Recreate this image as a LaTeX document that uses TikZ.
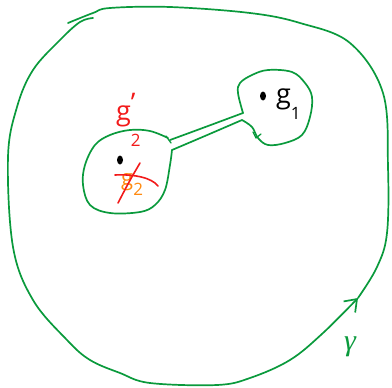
\documentclass[tikz,border=0pt]{standalone}
\usepackage{fontspec}
\setsansfont{Open Sans}
\newfontfamily\greekfont{Liberation Serif}
\usetikzlibrary{arrows.meta}
\definecolor{PenGreen}{HTML}{0A9A3C}
\definecolor{PenRed}{HTML}{F21A1A}
\definecolor{PenOrange}{HTML}{FF8A10}
\newcommand\lowsub[2]{\raisebox{-#1}{\fontsize{17}{17}\selectfont#2}}
\tikzset{pen/.style={PenGreen,line width=1.7pt,line cap=round,line join=round},
  lab/.style={inner sep=0pt,font=\sffamily\fontsize{27}{30}\selectfont}}

\begin{document}
\begin{tikzpicture}[x=1pt,y=-1pt]
\useasboundingbox (0,0) rectangle (392,388);
% big contour, the pen runs round it once
\draw[pen,-{Straight Barb[length=11pt,width=16pt]}] plot[smooth,tension=0.6] coordinates {(93,18) (80,22) (60,40) (33,70) (17,107) (8,157) (13,247) (33,300) (67,340) (90,360) (120,373) (150,383) (217,385) (250,378) (290,360) (323,333) (358,298)};
\draw[pen] plot[smooth,tension=0.6] coordinates {(358,298) (377,267) (387,233) (388,167) (383,93) (350,43) (300,23) (250,13) (170,7) (110,8) (93,13) (68,23)};
% blob round g2
\draw[pen] plot[smooth,tension=0.6] coordinates {(172,150) (170,165) (165,190) (155,205) (140,212) (110,213) (90,205) (83,185) (85,165) (95,145) (110,135) (130,130) (150,131) (168,138)};
% tube
\draw[pen] (170,140) .. controls (200,129) .. (243,113);
\draw[pen] (172,150) .. controls (205,136) .. (242,120);
% blob round g1
\draw[pen] plot[smooth,tension=0.6] coordinates {(243,113) (238,93) (240,83) (252,75) (268,70) (292,72) (305,83) (312,97) (310,117) (302,135) (285,143) (268,145) (258,138) (252,127) (242,120)};
% ticks
\draw[pen,line width=1.3pt] (166,136) -- (171,143);
\draw[pen,line width=1.3pt] (253,132) -- (256,138) -- (261,134);
% points
\fill (263,96) ellipse (3pt and 4.5pt);
\fill (120,160) ellipse (3pt and 4.5pt);
% labels
\node[lab,anchor=base west] (gone) at (276,103) {g\lowsub{17pt}{1}};
\node[lab,anchor=base west,PenRed] (gtwonew) at (116,121) {g\rlap{\raisebox{8pt}{'}}\lowsub{26pt}{2}};
\node[lab,anchor=base west,PenOrange,font=\sffamily\fontsize{22}{24}\selectfont] (gtwo) at (121,185) {g\lowsub{10pt}{2}};
\draw[PenRed,line width=1.6pt,line cap=round] (115,175) .. controls (135,174) and (152,178) .. (158,186);
\draw[PenRed,line width=1.6pt,line cap=round] (140,163) .. controls (130,180) .. (118,203);
\node[lab,PenGreen,font=\greekfont\itshape\fontsize{30}{32}\selectfont] (gamma) at (350,347) {γ};
\end{tikzpicture}
\end{document}
